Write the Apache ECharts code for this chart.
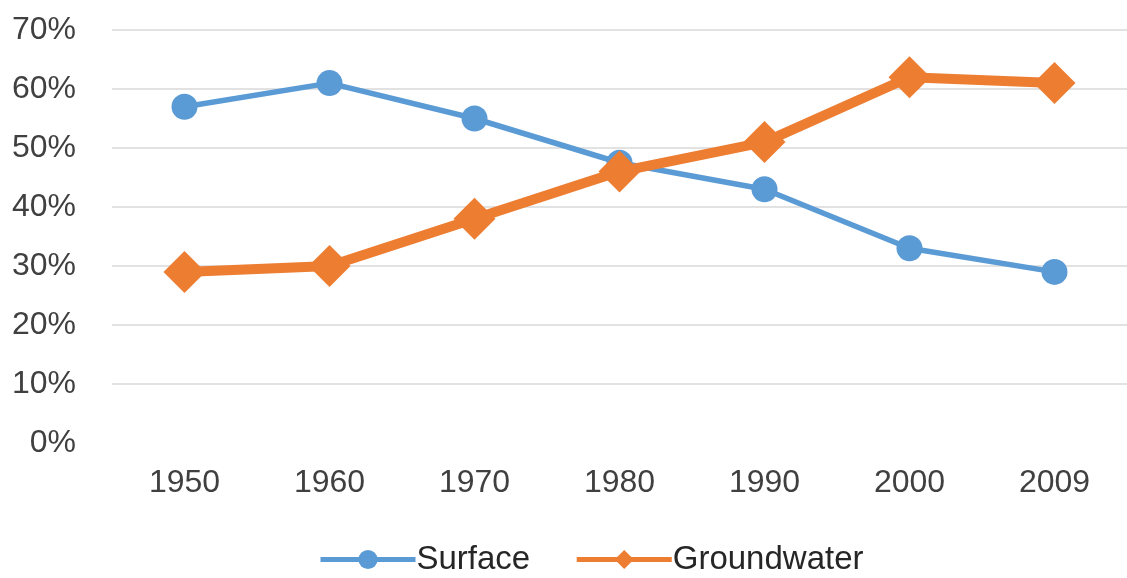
<!DOCTYPE html>
<html>
<head>
<meta charset="utf-8">
<script src="https://cdn.jsdelivr.net/npm/echarts@6/dist/echarts.min.js"></script>
<style>
html,body{margin:0;padding:0;background:#fff;}
#chart{width:1127px;height:578px;}
</style>
</head>
<body>
<div id="chart"></div>
<script>
var categories = ['1950','1960','1970','1980','1990','2000','2009'];
var surface = [57, 61, 55, 47.5, 43, 33, 29];
var groundwater = [29, 30, 38, 46, 51, 62, 61];
var yTicks = {min: 0, max: 70, interval: 10};

var chart = echarts.init(document.getElementById('chart'));
var font = '"Liberation Sans", Arial, sans-serif';
chart.setOption({
  animation: false,
  backgroundColor: '#fff',
  grid: {left: 112, top: 30, width: 1024, height: 413, containLabel: false},
  legend: {
    top: 538, left: 313,
    itemWidth: 95, itemHeight: 24, itemGap: 44,
    lineStyle: {width: 5},
    textStyle: {fontFamily: font, fontSize: 33, color: '#262626', padding: [0,0,0,-4]},
    data: ['Surface', 'Groundwater']
  },
  xAxis: {
    type: 'category', data: categories, boundaryGap: true,
    axisLine: {show: false}, axisTick: {show: false},
    axisLabel: {fontFamily: font, fontSize: 32, color: '#404040', margin: 24}
  },
  yAxis: {
    type: 'value', min: yTicks.min, max: yTicks.max, interval: yTicks.interval,
    axisLine: {show: false}, axisTick: {show: false},
    axisLabel: {fontFamily: font, fontSize: 32, color: '#404040', margin: 36, formatter: '{value}%'},
    splitLine: {showMinLine: false, lineStyle: {color: '#d9d9d9', width: 1.5}}
  },
  series: [
    {
      name: 'Surface', type: 'line', data: surface,
      symbol: 'circle', symbolSize: 26,
      lineStyle: {color: '#5B9BD5', width: 5.5},
      itemStyle: {color: '#5B9BD5'}
    },
    {
      name: 'Groundwater', type: 'line', data: groundwater,
      symbol: 'diamond', symbolSize: 42,
      lineStyle: {color: '#ED7D31', width: 10},
      itemStyle: {color: '#ED7D31'}
    }
  ]
});
</script>
</body>
</html>
